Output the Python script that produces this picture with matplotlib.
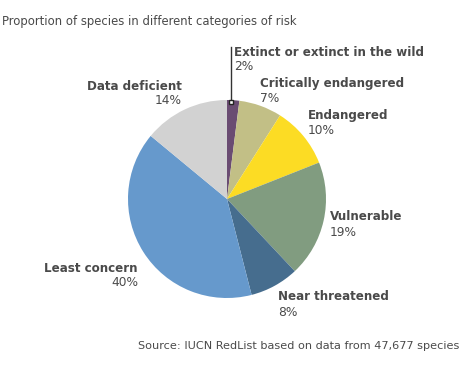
import matplotlib
matplotlib.use("Agg")
import matplotlib.pyplot as plt

categories = ["Extinct or extinct in the wild", "Critically endangered", "Endangered",
              "Vulnerable", "Near threatened", "Least concern", "Data deficient"]
values = [2, 7, 10, 19, 8, 40, 14]
colors = ["#6a4c72", "#c2bf86", "#fcdc24", "#819c80", "#466d8e", "#6699cc", "#d2d2d2"]

W, H = 463, 365
fig = plt.figure(figsize=(W / 100, H / 100), dpi=100)
ax = fig.add_axes([0, 0, 1, 1])

cx, cy, r = 227, 199, 99
ax.pie(values, colors=colors, startangle=90, counterclock=False,
       center=(cx, H - cy), radius=r, wedgeprops=dict(linewidth=0))
ax.set_xlim(0, W)
ax.set_ylim(0, H)
ax.set_aspect("auto")
ax.axis("off")

tc = "#4a4a4a"
fs = 8.8
fsb = 8.6

def Y(y):
    return H - y

ax.text(2, Y(22), "Proportion of species in different categories of risk",
        fontsize=8.4, color=tc, va="center", ha="left")

# label positions (pixels, top-left origin), alignment
label_pos = [
    (234, 52, "left"),
    (260, 83, "left"),
    (308, 115, "left"),
    (330, 217, "left"),
    (278, 297, "left"),
    (138, 268, "right"),
    (182, 86, "right"),
]
for name, v, (x, y, ha) in zip(categories, values, label_pos):
    ax.text(x, Y(y), name, fontsize=fsb, fontweight="bold", color=tc, ha=ha, va="center")
    ax.text(x, Y(y + 15), f"{v}%", fontsize=fs, color=tc, ha=ha, va="center")

# leader line for the small slice
ax.plot([231, 231], [Y(47), Y(102)], color="#333333", lw=1)
ax.plot([231], [Y(102)], marker="s", ms=3, mfc="white", mec="#222222", mew=1)

ax.text(459, Y(346), "Source: IUCN RedList based on data from 47,677 species",
        fontsize=8.1, color=tc, ha="right", va="center")

fig.savefig("out.png", dpi=100)
